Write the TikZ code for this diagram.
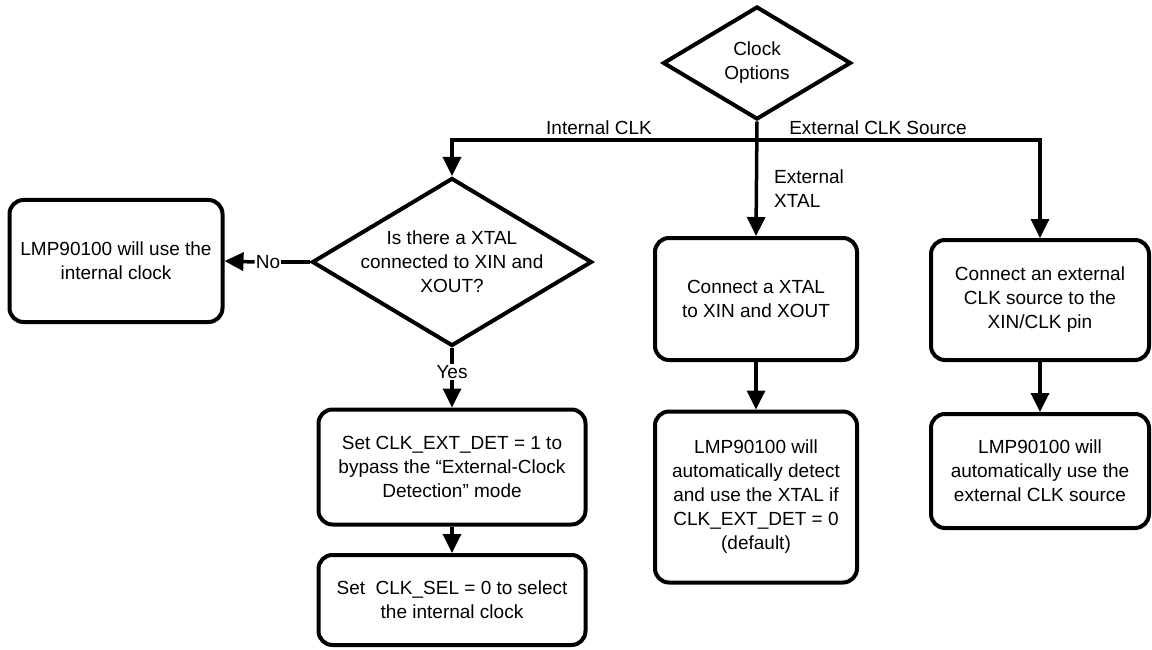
\documentclass[tikz,border=0pt]{standalone}
\usepackage{fontspec}
\setmainfont{Liberation Sans}
\usetikzlibrary{shapes.geometric,arrows.meta}
\begin{document}
\begin{tikzpicture}[x=1pt,y=-1pt,
  every node/.style={font=\fontsize{19}{24}\selectfont},
  box/.style={draw, line width=4pt, rounded corners=14pt, align=center, inner sep=0pt},
  dia/.style={draw, diamond, line width=4pt, inner sep=0pt},
  lbl/.style={align=center, inner sep=1pt},
  arr/.style={line width=3.5pt, -{Triangle[length=19pt,width=18pt]}},
  ln/.style={line width=3.5pt}]
\useasboundingbox (0,0) rectangle (1152,650);

\node[dia, minimum width=188, minimum height=113,
  label={[align=center]center:Clock\\Options}] (opt) at (757,63) {};
\node[dia, minimum width=280, minimum height=168,
  label={[align=center]center:Is there a XTAL\\connected to XIN and\\XOUT?}] (d2) at (452,262) {};

\node[box, minimum width=213, minimum height=122] (b1) at (116,261) {LMP90100 will use the\\internal clock};
\node[box, minimum width=267, minimum height=115] (b3) at (452,467) {Set CLK\_EXT\_DET = 1 to\\bypass the “External-Clock\\Detection” mode};
\node[box, minimum width=267, minimum height=90] (b4) at (452,600) {Set \ CLK\_SEL = 0 to select\\the internal clock};
\node[box, minimum width=202, minimum height=122] (b2) at (756,299) {Connect a XTAL\\to XIN and XOUT};
\node[box, minimum width=202, minimum height=171] (b5) at (756,497) {LMP90100 will\\automatically detect\\and use the XTAL if\\CLK\_EXT\_DET = 0\\(default)};
\node[box, minimum width=218, minimum height=120] (b6) at (1040,300) {Connect an external\\CLK source to the\\XIN/CLK pin};
\node[box, minimum width=218, minimum height=114] (b7) at (1040,471) {LMP90100 will\\automatically use the\\external CLK source};

\coordinate (j) at (757,140);
\draw[arr] (opt.south) -- (b2.north);
\draw[arr] (j) -| (d2.north);
\draw[arr] (j) -| (b6.north);
\node[lbl, anchor=south] (lint) at (599,136) {Internal CLK};
\node[lbl, anchor=south] (lext) at (878,136) {External CLK Source};
\node[lbl, anchor=west, align=left] (lxt) at (773,189) {External\\XTAL};

\node[lbl, fill=white] (no) at (268,262) {No};
\draw[ln] (d2.west) -- (no.east);
\draw[arr] (no.west) -- (b1.east);

\node[lbl] (yes) at (452,372) {Yes};
\draw[ln] (d2.south) -- (yes.north);
\draw[arr] (yes.south) -- (b3.north);

\draw[arr] (b3.south) -- (b4.north);
\draw[arr] (b2.south) -- (b5.north);
\draw[arr] (b6.south) -- (b7.north);
\end{tikzpicture}
\end{document}
